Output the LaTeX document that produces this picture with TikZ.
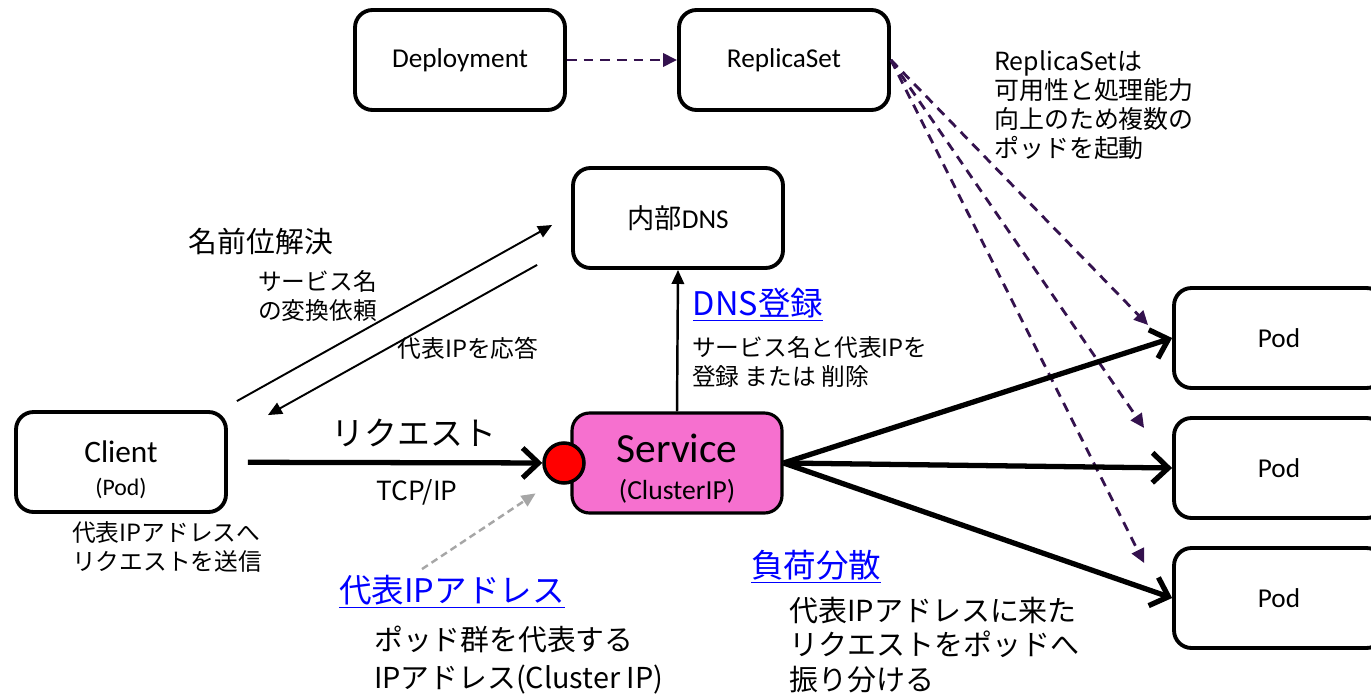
\documentclass[tikz,border=0pt]{standalone}
\usepackage{fontspec}
\setmainfont{Carlito}
\newfontfamily\jpfont{Noto Sans CJK JP}
\usetikzlibrary{%
        arrows.meta,
        calc
    }
\definecolor{svcpink}{RGB}{246, 112, 207}
\definecolor{rspurple}{RGB}{52, 18, 78}
\definecolor{linkblue}{RGB}{0, 0, 255}
\newcommand{\jpsize}[2]{\jpfont\fontsize{#1}{#2}\selectfont}
\tikzset{
    box/.style={draw, line width=2.2pt, rounded corners=0.35cm, minimum width=4.2cm,
        minimum height=2cm, align=center, font=\fontsize{15.5}{18}\selectfont},
    note/.style={anchor=west, align=left},
    link/.style={text=linkblue, font=\jpsize{18.5}{22}},
    dashline/.style={rspurple, line width=1.6pt, dash pattern=on 5.5pt off 4pt,
        -{Triangle[length=8pt, width=7.5pt]}},
    thinarrow/.style={line width=1.1pt, -{Triangle[length=8pt, width=7pt]}},
    midarrow/.style={line width=1.4pt, -{Triangle[length=8pt, width=7pt]}},
    bigarrow/.style={line width=3pt, -{Straight Barb[length=9pt, width=17pt]}},
    grayarrow/.style={gray!70, line width=1.4pt, dash pattern=on 4pt off 2.5pt,
        -{Triangle[length=8pt, width=7pt]}}
}

\begin{document}
\begin{tikzpicture}[x=0.02cm, y=-0.02cm]
    \useasboundingbox (0, 0) rectangle (1371, 696);

    \node[box] (deployment) at (460, 60) {Deployment};
    \node[box] (replicaset) at (784, 60) {ReplicaSet};
    \node[box] (dns) at (678, 218) {{\jpfont 内部}DNS};
    \node[box, font=\fontsize{17.8}{18.5}\selectfont] (client) at (121, 462)
        {\rule{0pt}{21pt}Client\\{\fontsize{13.5}{16}\selectfont (Pod)}};
    \node[box, fill=svcpink, line width=1.8pt, font=\fontsize{23.6}{21}\selectfont]
        (service) at (677, 463)
        {\rule{0pt}{23pt}Service\\{\fontsize{15.7}{18}\selectfont (ClusterIP)}};
    \node[draw, circle, fill=red, line width=2pt, minimum size=0.8cm, inner sep=0pt]
        (dot) at (564, 463) {};
    \foreach \y/\n in {338/1, 468/2, 598/3}
        \node[box] (pod\n) at (1279, \y) {Pod};

    \node[font=\jpsize{16.4}{20}] (resolve) at (261, 242) {名前位解決};
    \node[note, font=\jpsize{13.5}{16}] (askname) at (252, 296)
        {サービス名\\の変換依頼};
    \node[font=\jpsize{13.5}{16}] (answer) at (468, 348) {代表IPを応答};
    \node[note, font=\jpsize{13.5}{16}] (sendnote) at (66, 547)
        {代表IPアドレスへ\\リクエストを送信};
    \node[font=\jpsize{18.7}{22}] (request) at (414, 433) {リクエスト};
    \node[font=\jpsize{15}{18}] (tcpip) at (417, 492) {TCP/IP};
    \node[link] (dnsreg) at (758, 305) {\underline{DNS登録}};
    \node[note, font=\jpsize{13.5}{16.5}] (regnote) at (686, 362)
        {サービス名と代表IPを\\登録 または 削除};
    \node[note, font=\jpsize{14.2}{16.5}] (rsnote) at (988, 105)
        {ReplicaSetは\\可用性と処理能力\\向上のため複数の\\ポッドを起動};
    \node[link] (vip) at (452, 592) {\underline{代表IPアドレス}};
    \node[note, font=\jpsize{16.4}{21.5}] (vipnote) at (368, 660)
        {ポッド群を代表する\\IPアドレス(Cluster IP)};
    \node[link] (lb) at (816, 567) {\underline{負荷分散}};
    \node[note, font=\jpsize{16.5}{19.8}] (lbnote) at (783, 645)
        {代表IPアドレスに来た\\リクエストをポッドへ\\振り分ける};

    \draw[dashline] (deployment) -- (replicaset);
    \foreach \n/\dx/\dy in {1/-24/-13, 2/-28/-40, 3/-28/-35}
        \draw[dashline] (replicaset.east) -- ($(pod\n.west)+(\dx, \dy)$);
    \draw[thinarrow] ($(client.north east)+(9, -9)$) -- ($(dns.west)+(-19, 7)$);
    \draw[thinarrow] ($(dns.south west)+(-34, -5)$) -- ($(client.north east)+(40, 5)$);
    \draw[bigarrow, shorten <=0.4cm] (client) -- (dot);
    \draw[midarrow] (service.north) -- (dns.south);
    \foreach \n in {1, 2, 3}
        \draw[bigarrow] (service.east) -- (pod\n.west);
    \draw[grayarrow] ($(vip.north)+(-30, 0)$) -- ($(dot.south west)+(-13, 15)$);
\end{tikzpicture}
\end{document}
